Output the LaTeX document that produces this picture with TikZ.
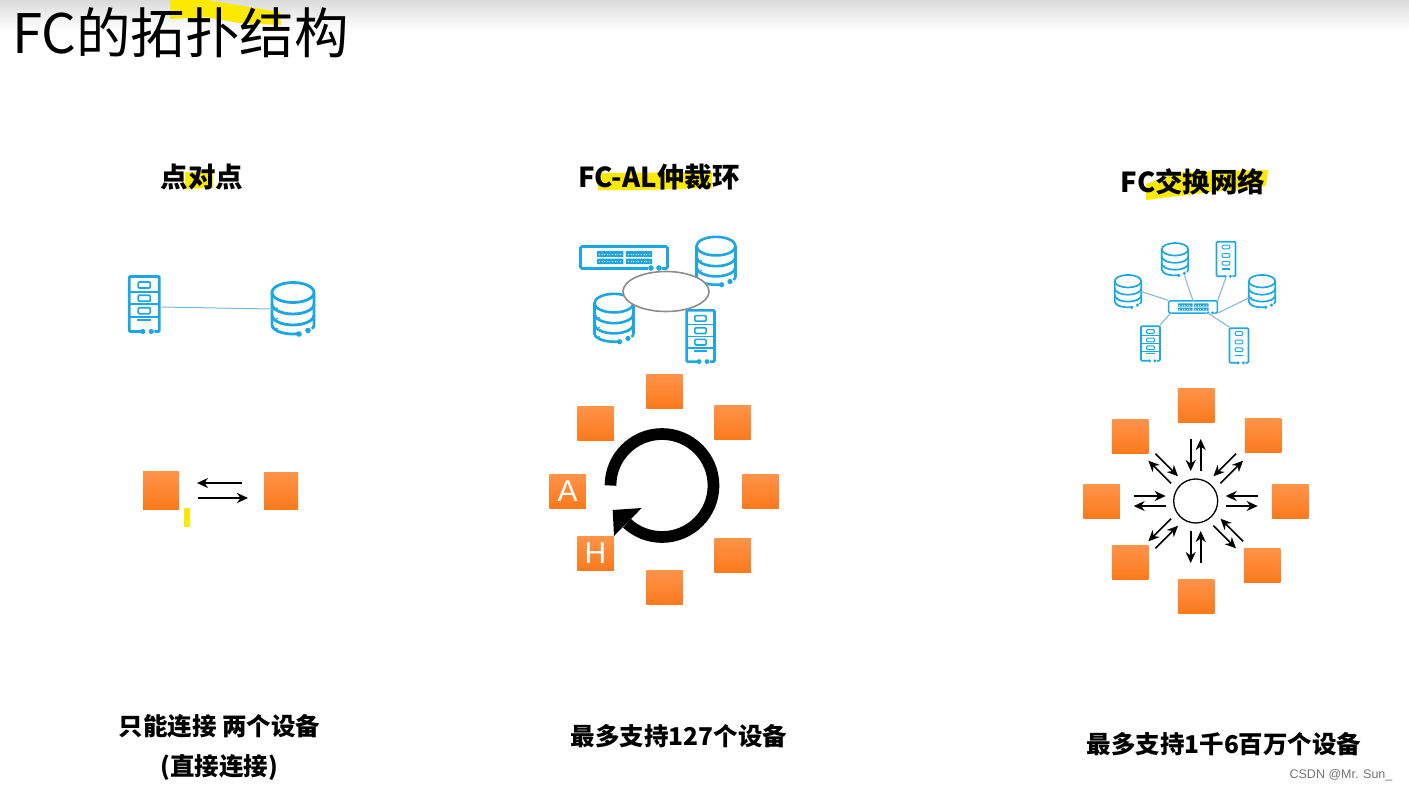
\documentclass[tikz,border=0pt]{standalone}
\usepackage{fontspec}
\setmainfont{Noto Sans CJK SC}
\setsansfont{Liberation Sans}
\usetikzlibrary{arrows.meta,calc,shapes.geometric}
\definecolor{iconblue}{HTML}{1CA6E2}
\definecolor{linkblue}{HTML}{8FBBDD}
\definecolor{marker}{HTML}{FBEA00}
\definecolor{boxtop}{HTML}{FF9349}
\definecolor{boxbot}{HTML}{FA7A1C}
\newcommand{\fsz}[1]{\fontsize{#1}{#1}\selectfont}
\newcommand{\iconw}{2.8pt}
\newcommand{\srvbody}{
  \draw[iconline, rounded corners=1pt] (-3.5,27.5) -- (-15,27.5) -- (-15,-27.5) -- (15,-27.5) -- (15,27.5) -- (10,27.5);
  \foreach \ypos in {-19,-5.7,6.7}
    \draw[iconthin, rounded corners=1pt] (-6,\ypos-3) rectangle (6,\ypos+3);
  \draw[iconline] (-7,16) -- (7,16);
  \fill[iconblue] (-1.5,27.5) circle (2.6pt) (7,27.5) circle (2.6pt);
  \coordinate (-e) at (17,3);
  \coordinate (-s) at (0,29);
  \coordinate (-nw) at (-15,-29);
  \coordinate (-ne) at (15,-29);
}
\tikzset{
  iconline/.style={iconblue, line width=\iconw},
  iconthin/.style={iconblue, line width=0.6*\iconw},
  dbicon/.pic={
    \draw[iconline] (0,-16.5) ellipse [x radius=21pt, y radius=10pt];
    \draw[iconline] (-21,-16.5) -- (-21,16) arc (180:285:21pt and 9pt);
    \draw[iconline] (21,-16.5) -- (21,16) arc (0:-25:21pt and 9pt);
    \draw[iconline] (-21,-5) arc (180:360:21pt and 10pt);
    \draw[iconline] (-21,6) arc (180:360:21pt and 10pt);
    \fill[iconblue] (6,25) circle (2.8pt) (15,21.5) circle (2.8pt);
    \fill[iconblue] (-16,-1) circle (1pt) (-16,9.5) circle (1pt) (-16,19.5) circle (1pt);
    \coordinate (-w) at (-21,0);
    \coordinate (-e) at (21,0);
    \coordinate (-l) at (-21,10);
    \coordinate (-d) at (15,25);
  },
  srvicon/.pic={
    \srvbody
    \draw[iconthin] (-15,-12.3) -- (15,-12.3) (-15,0.3) -- (15,0.3) (-15,12.7) -- (15,12.7);
  },
  plainsrv/.pic={\srvbody},
  swicon/.pic={
    \draw[iconline, rounded corners=1.5pt] (24,11) -- (-43.5,11) -- (-43.5,-11) -- (43.5,-11) -- (43.5,11) -- (38,11);
    \fill[iconblue] (-27,-6.3) rectangle (-0.7,-0.7) (2,-6.3) rectangle (28,-0.7) (-27,1) rectangle (-0.7,6.6) (2,1) rectangle (28,6.6);
    \draw[white, line width=1pt, dash pattern=on 1pt off 1.6pt] (-25,-3.5) -- (-2,-3.5) (4,-3.5) -- (26,-3.5) (-25,3.8) -- (-2,3.8) (4,3.8) -- (26,3.8);
    \fill[iconblue] (27,10.5) circle (2.8pt) (35,10.5) circle (2.8pt);
    \coordinate (-n) at (0,-11);
    \coordinate (-nw) at (-44,-12);
    \coordinate (-ne) at (44,-11);
    \coordinate (-se) at (44,11);
    \coordinate (-sw) at (-40,11);
    \coordinate (-b) at (27,11);
  }
}
\begin{document}
\begin{tikzpicture}[x=1pt, y=-1pt,
    every node/.style={inner sep=0pt},
    mainicon/.style={/utils/exec={\renewcommand{\iconw}{2.8pt}}},
    midicon/.style={scale=0.93, /utils/exec={\renewcommand{\iconw}{2.6pt}}},
    smallicon/.style={scale=0.63, /utils/exec={\renewcommand{\iconw}{1.7pt}}},
    tinyicon/.style={scale=0.56, /utils/exec={\renewcommand{\iconw}{1.4pt}}},
    hilite/.style={fill=marker},
    heading/.style={font=\fsz{27.5}\bfseries},
    caption/.style={font=\fsz{24.5}\bfseries},
    devbox/.style={minimum width=36.5pt, minimum height=34pt, top color=boxtop, bottom color=boxbot, text=white, font=\sffamily\fsz{30}},
    link/.style={linkblue, line width=1.2pt},
    arr/.style={-{Stealth[length=11pt, width=10pt, inset=3.5pt]}, line width=1.6pt}]
\useasboundingbox (0,0) rectangle (1409,790);
\shade[top color=black!14, bottom color=white] (0,0) rectangle (1409,30);
\fill[hilite] (170,0) -- (207,0) -- (280,12) -- (281,25) -- (240,23) -- (205,17) -- (170,19) -- cycle;
\fill[hilite] (185,172) -- (213,172) -- (213,188) -- (185,189) -- cycle;
\fill[hilite] (598,173) -- (712,172) -- (712,188) -- (640,190) -- (598,190) -- cycle;
\fill[hilite] (1146,184) -- (1180,172) -- (1268,170) -- (1266,186) -- (1210,192) -- (1146,200) -- cycle;
\fill[hilite] (184,508) rectangle (190,527);
\node[font=\fsz{54.5}] (title) at (180.5,33) {FC的拓扑结构};
\node[heading] (ptp) at (202,177) {点对点};
\node[heading] (loop) at (659,177) {FC-AL仲裁环};
\node[heading] (fabric) at (1193,182) {FC交换网络};

\pic[mainicon] (srv1) at (144.3,304) {srvicon};
\pic[mainicon] (db1) at (293,309) {dbicon};
\draw[linkblue!80!iconblue, line width=1pt] (srv1-e) -- (db1-w);
\node[devbox, minimum width=36pt, minimum height=38pt] (p1) at (161,490) {};
\node[devbox, minimum width=34pt, minimum height=37pt] (p2) at (281,490.5) {};
\coordinate (a1) at (242,483);
\coordinate (a2) at (197,483);
\coordinate (a3) at (198,498);
\coordinate (a4) at (248,498);
\draw[arr] (a1) -- (a2);
\draw[arr] (a3) -- (a4);

\pic[mainicon] (sw2) at (624,257.5) {swicon};
\pic[midicon] (db2) at (716,261.5) {dbicon};
\pic[midicon] (db3) at (614,318.5) {dbicon};
\pic[midicon] (srv2) at (700.5,336) {srvicon};
\node[ellipse, draw=black!45, fill=white, line width=1.6pt, minimum width=86pt, minimum height=40pt] (ring) at (666,291.5) {};
\foreach \name/\xpos/\ypos in {m1/664.5/391, m2/595.5/423.5, m3/732.5/422.5, m4/760.5/491, m5/732.5/555, m6/664.5/587.5}
  \node[devbox] (\name) at (\xpos,\ypos) {};
\node[devbox] (devA) at (567.5,491) {A};
\node[devbox] (devH) at (595.5,553.5) {H};
\coordinate (hubring) at (662,485.5);
\draw[line width=11.7pt] ($(hubring)+(180:51.5pt)$) arc (180:-133:51.5pt);
\fill (612.7,510) -- (641.7,508) -- (614,536) -- cycle;

\pic[smallicon] (db4) at (1128,291.6) {dbicon};
\pic[smallicon] (db5) at (1175,259.7) {dbicon};
\pic[smallicon] (db6) at (1262,291.6) {dbicon};
\pic[smallicon] (srv3) at (1226,259) {plainsrv};
\pic[smallicon] (srv4) at (1239,345.5) {plainsrv};
\pic[smallicon] (srv5) at (1150.5,343.5) {srvicon};
\pic[tinyicon] (sw1) at (1193,307) {swicon};
\draw[link] (db4-e) -- (sw1-nw);
\draw[link] (db5-d) -- (sw1-n);
\draw[link] (srv3-s) -- (sw1-ne);
\draw[link] (db6-l) -- (sw1-se);
\draw[link] (srv4-nw) -- (sw1-b);
\draw[link] (srv5-ne) -- (sw1-sw);
\foreach \name/\xpos/\ypos in {n1/1196/405, n2/1130/436.5, n3/1263/435.5, n4/1101.5/501.5, n5/1290/501.5, n6/1130/562.5, n7/1262/565, n8/1196/596}
  \node[devbox] (\name) at (\xpos,\ypos) {};
\node[circle, draw, line width=1.3pt, minimum size=44pt] (hub) at (1195.7,501) {};
\foreach \ang/\side in {0/1, 45/1, 90/1, 135/-1, 180/-1, 225/1, 270/1, 315/1} {
  \coordinate (inA) at ($(hub)+(\ang:62pt)+(\ang+90:5*\side pt)$);
  \coordinate (inB) at ($(hub)+(\ang:30pt)+(\ang+90:5*\side pt)$);
  \coordinate (outA) at ($(hub)+(\ang:30pt)+(\ang-90:5*\side pt)$);
  \coordinate (outB) at ($(hub)+(\ang:62pt)+(\ang-90:5*\side pt)$);
  \draw[arr] (inA) -- (inB);
  \draw[arr] (outA) -- (outB);
}

\node[caption] (cap1) at (219.5,726) {只能连接 两个设备};
\node[caption] (cap1b) at (219,767) {(直接连接)};
\node[caption] (cap2) at (679,736) {最多支持127个设备};
\node[caption] (cap3) at (1224,744) {最多支持1千6百万个设备};
\node[font=\sffamily\fsz{12.5}, text=black!55] (wm) at (1341,775) {CSDN @Mr. Sun\_};
\end{tikzpicture}
\end{document}
